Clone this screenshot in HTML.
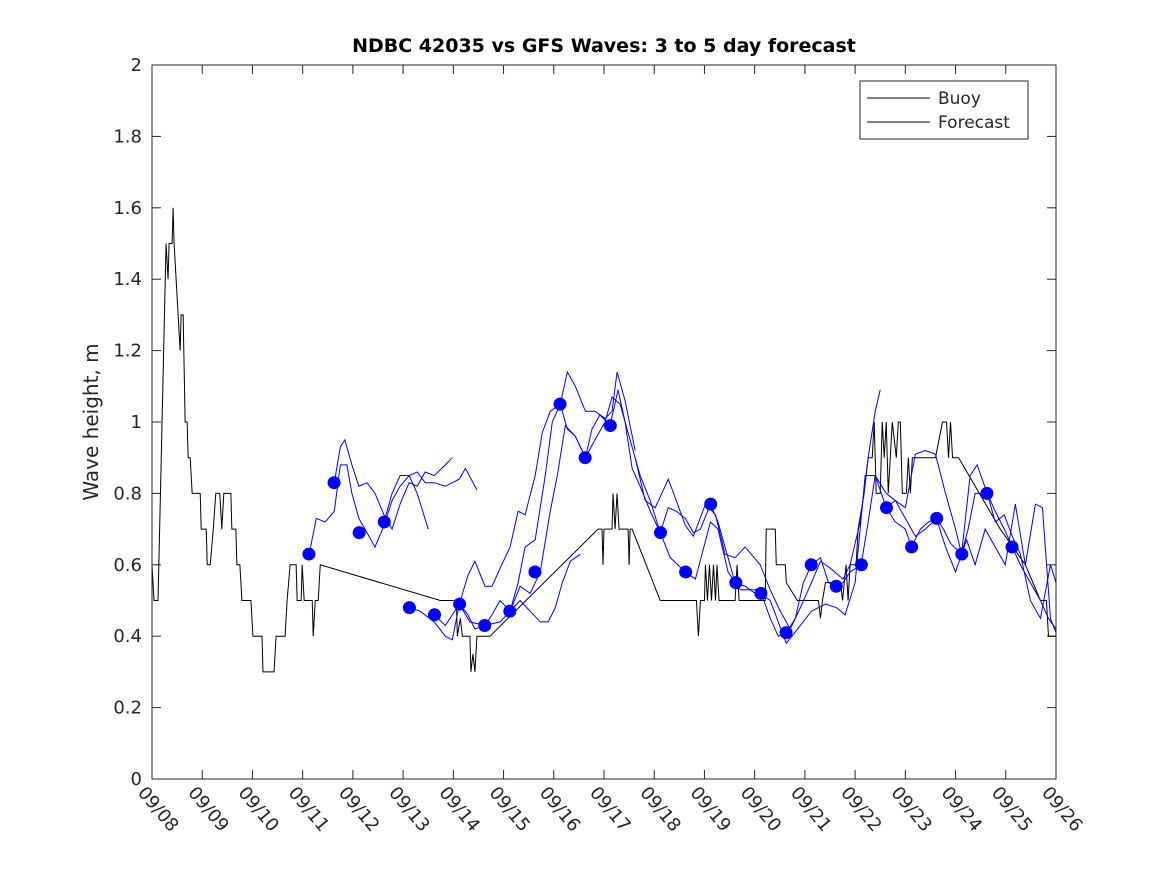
<!DOCTYPE html>
<html><head><meta charset="utf-8"><style>
body{margin:0;background:#fff}
svg text{font-family:"DejaVu Sans","Liberation Sans",sans-serif;fill:#262626}
</style></head><body>
<svg id="chart" width="1167" height="875" xmlns="http://www.w3.org/2000/svg">
<rect width="1167" height="875" fill="#fff"/>
<text x="604" y="52" text-anchor="middle" font-size="19" font-weight="bold" style="fill:#000">NDBC 42035 vs GFS Waves: 3 to 5 day forecast</text>
<text transform="translate(98,422) rotate(-90)" text-anchor="middle" font-size="20">Wave height, m</text>
<g id="grid"></g><g id="series"></g>
<rect x="152" y="65" width="904" height="714" fill="none" stroke="#262626" stroke-width="1"/>
<g>
<rect x="860" y="81" width="168" height="58" fill="#fff" stroke="#262626"/>
<line x1="867" y1="98" x2="930" y2="98" stroke="#000"/>
<text x="938" y="104" font-size="17">Buoy</text>
<line x1="867" y1="122" x2="930" y2="122" stroke="#000"/>
<text x="938" y="128" font-size="17">Forecast</text>
</g>
</svg>
<script>
const xTicks=["09/08","09/09","09/10","09/11","09/12","09/13","09/14","09/15","09/16","09/17","09/18","09/19","09/20","09/21","09/22","09/23","09/24","09/25","09/26"];
const yTicks=[0,0.2,0.4,0.6,0.8,1,1.2,1.4,1.6,1.8,2];
const buoyDays=[0,.04,.12,.28,.32,.34,.40,.42,.44,.48,.52,.56,.58,.62,.66,.70,.72,.76,.80,.86,.96,.98,1.08,1.10,1.16,1.22,1.27,1.35,1.39,1.43,1.57,1.59,1.67,1.69,1.75,1.79,1.97,2.01,2.19,2.21,2.43,2.47,2.65,2.69,2.75,2.87,2.89,2.97,2.99,3.03,3.19,3.21,3.25,3.31,3.35,5.74,6.06,6.08,6.14,6.18,6.33,6.35,6.39,6.43,6.47,6.73,8.88,8.96,8.98,9.0,9.16,9.18,9.22,9.26,9.30,9.48,9.50,9.52,9.56,10.12,10.84,10.88,10.92,11.0,11.02,11.06,11.10,11.14,11.18,11.22,11.25,11.29,11.61,11.65,11.69,12.21,12.23,12.41,12.43,12.61,12.63,12.85,13.27,13.31,13.35,13.41,13.71,13.75,13.82,13.86,13.90,14.02,14.06,14.18,14.26,14.34,14.38,14.42,14.50,14.54,14.58,14.62,14.66,14.74,14.82,14.86,14.90,14.94,15.02,15.06,15.10,15.14,15.60,15.74,15.82,15.86,15.90,15.94,16.06,16.89,17.39,17.69,17.81,17.85,18.0];
const buoyVals=[0.6,0.5,0.5,1.5,1.4,1.5,1.5,1.6,1.5,1.4,1.3,1.2,1.3,1.3,1.0,1.0,0.9,0.9,0.8,0.8,0.8,0.7,0.7,0.6,0.6,0.7,0.8,0.8,0.7,0.8,0.8,0.7,0.7,0.6,0.6,0.5,0.5,0.4,0.4,0.3,0.3,0.4,0.4,0.5,0.6,0.6,0.5,0.5,0.6,0.5,0.5,0.4,0.5,0.5,0.6,0.5,0.5,0.4,0.45,0.4,0.4,0.3,0.35,0.3,0.4,0.4,0.7,0.7,0.6,0.7,0.7,0.8,0.7,0.8,0.7,0.7,0.6,0.7,0.7,0.5,0.5,0.4,0.5,0.5,0.6,0.5,0.6,0.5,0.6,0.5,0.6,0.5,0.5,0.6,0.5,0.5,0.7,0.7,0.6,0.6,0.55,0.5,0.5,0.45,0.5,0.55,0.55,0.5,0.6,0.5,0.6,0.6,0.7,0.8,0.9,0.9,1.0,0.8,0.8,1.0,0.9,1.0,0.8,1.0,0.9,1.0,1.0,0.8,0.8,0.9,0.8,0.9,0.9,1.0,1.0,0.9,1.0,0.9,0.9,0.7,0.6,0.5,0.5,0.4,0.4];
const fcA_d=[3.13,3.27,3.45,3.63,3.75,3.88,3.98,4.12,4.28,4.44,4.62,4.78,4.94,5.12,5.28,5.44,5.62,5.84,6.12,6.24,6.47];
const fcA_v=[0.63,0.73,0.72,0.75,0.88,0.88,0.80,0.73,0.69,0.65,0.71,0.78,0.82,0.85,0.86,0.83,0.83,0.82,0.84,0.87,0.81];
const fcB_d=[3.63,3.75,3.84,3.98,4.12,4.28,4.44,4.62,4.78,4.94,5.12,5.28,5.44,5.62,5.84,5.98];
const fcB_v=[0.83,0.93,0.95,0.88,0.82,0.83,0.80,0.74,0.70,0.77,0.83,0.82,0.86,0.85,0.88,0.90];
const fcC_d=[4.62,4.78,4.94,5.12,5.28,5.50];
const fcC_v=[0.72,0.80,0.85,0.85,0.80,0.70];
const fcD_d=[5.12,5.34,5.62,5.84,5.98,6.12,6.29,6.43,6.63,6.77,6.93,7.13,7.29,7.43,7.63,7.77,7.93,8.13,8.27,8.43,8.63,8.82,9.02,9.16,9.26,9.42,9.62];
const fcD_v=[0.48,0.47,0.44,0.40,0.39,0.49,0.57,0.61,0.54,0.54,0.59,0.65,0.75,0.74,0.85,0.97,1.03,1.05,1.14,1.10,1.03,1.03,1.01,1.03,1.14,1.06,0.92];
const fcE_d=[5.62,5.84,6.12,6.29,6.43,6.63,6.77,6.93,7.13,7.29,7.43,7.63,7.83,7.97,8.13,8.27,8.43,8.63,8.82,9.02,9.16,9.32,9.52,9.72,9.92,10.12];
const fcE_v=[0.46,0.43,0.49,0.46,0.42,0.43,0.46,0.50,0.47,0.55,0.65,0.67,0.85,1.0,1.05,0.98,0.96,0.90,0.95,1.0,1.07,1.05,0.95,0.85,0.78,0.69];
const fcF_d=[6.12,6.33,6.63,6.93,7.13,7.33,7.53,7.73,7.89,8.03,8.17,8.33,8.53];
const fcF_v=[0.49,0.44,0.43,0.44,0.47,0.50,0.47,0.44,0.44,0.48,0.55,0.61,0.63];
const fcG_d=[7.13,7.33,7.53,7.73,7.93,8.07,8.23,8.43,8.63,8.76,8.92,9.12,9.28,9.42,9.56,9.72,9.92,10.12,10.28,10.44,10.62,10.78,10.92,11.12,11.27,11.41,11.61,11.81,12.01,12.13,12.31,12.47,12.63,12.81,12.97,13.13,13.31,13.47,13.63,13.76,13.90,14.12,14.26,14.40,14.62,14.80,15.00,15.12,15.30,15.46,15.62,15.76,15.90,16.12,16.25,16.39,16.63,16.79,16.97,17.13,17.29,17.49,17.69,17.85,18.0];
const fcG_v=[0.47,0.54,0.52,0.58,0.75,0.85,0.99,0.96,0.90,0.98,1.02,0.99,1.09,1.0,0.87,0.82,0.75,0.69,0.76,0.75,0.73,0.69,0.70,0.77,0.72,0.65,0.55,0.54,0.52,0.52,0.45,0.40,0.41,0.45,0.55,0.60,0.62,0.55,0.54,0.55,0.58,0.60,0.72,0.85,0.76,0.72,0.70,0.65,0.70,0.72,0.73,0.70,0.66,0.63,0.70,0.80,0.80,0.75,0.70,0.65,0.60,0.55,0.50,0.45,0.42];
const fcH_d=[9.62,9.82,10.02,10.28,10.44,10.62,10.78,11.02,11.22,11.41,11.61,11.81,12.11,12.31,12.51,12.71,12.91,13.13,13.31,13.51,13.76,13.90,14.10,14.26,14.40,14.50];
const fcH_v=[0.90,0.78,0.76,0.84,0.78,0.71,0.68,0.77,0.74,0.63,0.62,0.65,0.60,0.53,0.47,0.42,0.48,0.55,0.61,0.59,0.56,0.60,0.72,0.90,1.03,1.09];
const fcI_d=[10.12,10.32,10.62,10.82,11.12,11.27,11.47,11.71,12.01,12.31,12.63,12.91,13.13,13.41,13.63,13.80,14.00,14.20,14.40,14.62,14.80,15.00,15.20,15.40,15.60,15.80,16.00,16.12,16.29,16.43,16.63,16.79,16.97,17.13,17.29,17.49,17.69,17.89,18.0];
const fcI_v=[0.69,0.62,0.58,0.56,0.72,0.70,0.58,0.53,0.53,0.50,0.38,0.43,0.47,0.49,0.48,0.46,0.55,0.85,0.85,0.80,0.78,0.76,0.91,0.92,0.91,0.80,0.70,0.63,0.85,0.88,0.80,0.72,0.74,0.68,0.63,0.50,0.45,0.60,0.55];
const fcJ_d=[14.62,14.80,15.00,15.20,15.40,15.62,15.80,16.00,16.22,16.39,16.59,16.79,16.99,17.19,17.39,17.59,17.73,17.89,18.0];
const fcJ_v=[0.76,0.78,0.73,0.68,0.70,0.73,0.65,0.58,0.67,0.60,0.70,0.65,0.60,0.77,0.60,0.77,0.76,0.45,0.41];
const dotDays=[3.125,3.625,4.125,4.625,5.125,5.625,6.125,6.625,7.125,7.625,8.125,8.625,9.125,10.125,10.625,11.125,11.625,12.125,12.625,13.125,13.625,14.125,14.625,15.125,15.625,16.125,16.625,17.125];
const dotVals=[0.63,0.83,0.69,0.72,0.48,0.46,0.49,0.43,0.47,0.58,1.05,0.90,0.99,0.69,0.58,0.77,0.55,0.52,0.41,0.60,0.54,0.60,0.76,0.65,0.73,0.63,0.80,0.65];

const NS="http://www.w3.org/2000/svg";
const X=d=>152+d*904/18, Y=v=>779-v*714/2;
const grid=document.getElementById('grid'), ser=document.getElementById('series');
function mk(t,a,p){const e=document.createElementNS(NS,t);for(const k in a)e.setAttribute(k,a[k]);p.appendChild(e);return e;}
xTicks.forEach((t,i)=>{
  const x=X(i);
  const l=mk('line',{x1:x,x2:x,y1:779,y2:770,stroke:'#262626'},grid);
  
  
  const l2=mk('line',{x1:x,x2:x,y1:65,y2:74,stroke:'#262626'},grid);
  
  
  const tx=mk('text',{transform:`translate(${x-15},${793}) rotate(50)`,'font-size':18},grid);
  tx.textContent=t;
  
  
});
yTicks.forEach(v=>{
  const y=Y(v);
  const l=mk('line',{x1:152,x2:161,y1:y,y2:y,stroke:'#262626'},grid);
  
  
  const l2=mk('line',{x1:1047,x2:1056,y1:y,y2:y,stroke:'#262626'},grid);
  
  
  const tx=mk('text',{x:142,y:y+6,'text-anchor':'end','font-size':18},grid);
  tx.textContent=String(v);
  
  
});
function line(ds,vs,col,name){
  const p=mk('polyline',{points:ds.map((d,i)=>X(d)+','+Y(vs[i])).join(' '),fill:'none',stroke:col,'stroke-width':1},ser);
  
  
}
line(buoyDays,buoyVals,'#000','buoy-line');
[[fcA_d,fcA_v],[fcB_d,fcB_v],[fcC_d,fcC_v],[fcD_d,fcD_v],[fcE_d,fcE_v],[fcF_d,fcF_v],[fcG_d,fcG_v],[fcH_d,fcH_v],[fcI_d,fcI_v],[fcJ_d,fcJ_v]].forEach(s=>line(s[0],s[1],'#0000ff','forecast-line'));
dotDays.forEach((d,i)=>{
  const c=mk('circle',{cx:X(d),cy:Y(dotVals[i]),r:6.5,fill:'#0000ff'},ser);
  
  
});
</script>
</body></html>
